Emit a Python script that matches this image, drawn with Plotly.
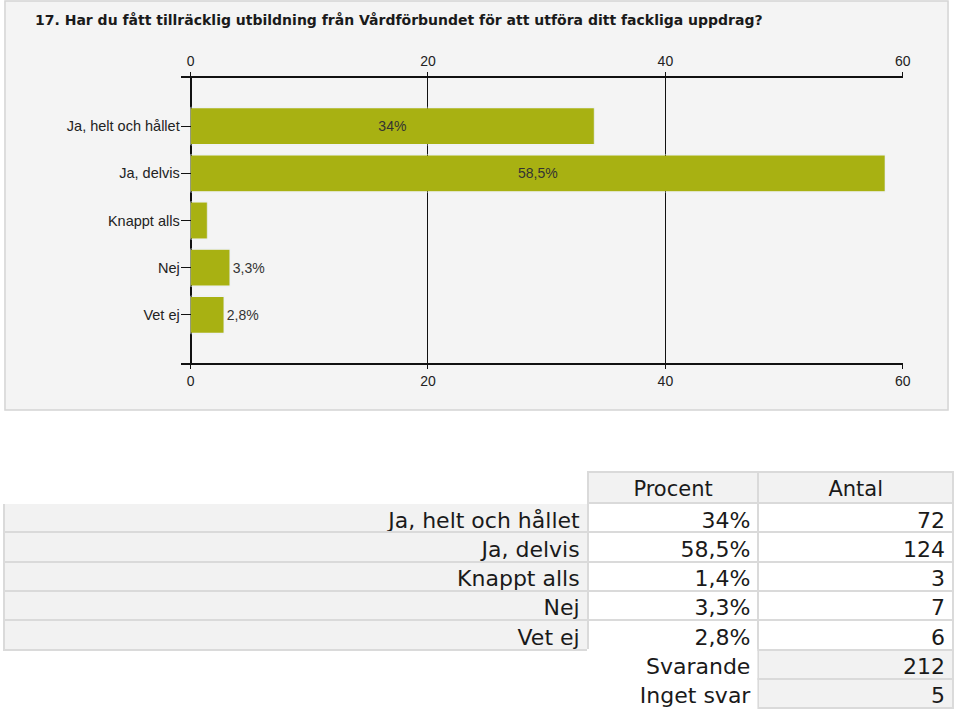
import plotly.graph_objects as go

# Data
categories = ["Ja, helt och hållet", "Ja, delvis", "Knappt alls", "Nej", "Vet ej"]
percent = [34.0, 58.5, 1.4, 3.3, 2.8]
percent_labels = ["34%", "58,5%", "1,4%", "3,3%", "2,8%"]
bar_text = ["34%", "58,5%", "", "3,3%", "2,8%"]
text_pos = ["inside", "inside", "none", "outside", "outside"]
counts = [72, 124, 3, 7, 6]
answered = 212
no_answer = 5
x_ticks = [0, 20, 40, 60]

title = "17. Har du fått tillräcklig utbildning från Vårdförbundet för att utföra ditt fackliga uppdrag?"

W, H = 960, 714
BAR = "#a8b112"
GREY_CELL = "#f2f2f2"
BORDER = "#dadada"

fig = go.Figure()

fig.add_trace(go.Bar(
    y=categories,
    x=percent,
    orientation="h",
    width=0.76,
    marker=dict(color=BAR, line=dict(width=0)),
    text=bar_text,
    textposition=text_pos,
    insidetextanchor="middle",
    textfont=dict(family="Liberation Sans, Arial", size=14, color="#333333"),
    cliponaxis=False,
    hoverinfo="skip",
))

# second (invisible) trace so the top axis is drawn
fig.add_trace(go.Bar(
    y=categories, x=percent, orientation="h", xaxis="x2",
    marker=dict(color="rgba(0,0,0,0)"), hoverinfo="skip", showlegend=False,
))

# table below the chart
col0 = categories + ["", ""]
col1 = percent_labels + ["Svarande", "Inget svar"]
col2 = [str(c) for c in counts] + [str(answered), str(no_answer)]

fig.add_trace(go.Table(
    domain=dict(x=[4 / W, 1.0], y=[0, 1 - 472 / H]),
    columnwidth=[588, 172, 196],
    header=dict(
        values=["", "Procent", "Antal"],
        align="center",
        height=31,
        fill=dict(color=["white", GREY_CELL, GREY_CELL]),
        line=dict(color=["white", BORDER, BORDER], width=2),
        font=dict(family="DejaVu Sans, Verdana", size=21, color="#1a1a1a"),
    ),
    cells=dict(
        values=[col0, col1, col2],
        align="right",
        height=29.3,
        fill=dict(color=[
            [GREY_CELL] * 5 + ["white"] * 2,
            ["white"] * 7,
            ["white"] * 5 + [GREY_CELL] * 2,
        ]),
        line=dict(color=[
            [BORDER] * 5 + ["white"] * 2,
            [BORDER] * 5 + ["white"] * 2,
            [BORDER] * 7,
        ], width=2),
        font=dict(family="DejaVu Sans, Verdana", size=22, color="#1a1a1a"),
    ),
))

axis_common = dict(
    range=[-0.835, 60.05],
    tickvals=x_ticks,
    showgrid=True,
    gridcolor="#111111",
    gridwidth=1,
    zeroline=True,
    zerolinecolor="#111111",
    zerolinewidth=2,
    showline=True,
    linecolor="#111111",
    linewidth=2,
    ticks="outside",
    ticklen=4,
    tickcolor="#111111",
    tickfont=dict(family="Liberation Sans, Arial", size=14, color="#222222"),
    fixedrange=True,
)

fig.update_layout(
    width=W,
    height=H,
    margin=dict(l=0, r=0, t=0, b=0),
    paper_bgcolor="white",
    plot_bgcolor="#fafafa",
    showlegend=False,
    barmode="overlay",
    xaxis=dict(domain=[182 / W, 910 / W], anchor="y", side="bottom", **axis_common),
    xaxis2=dict(domain=[182 / W, 910 / W], anchor="y", side="top", overlaying="x",
                matches="x", **axis_common),
    yaxis=dict(
        domain=[1 - 363 / H, 1 - 78 / H],
        type="category",
        range=[5.02, -1.02],
        showgrid=False,
        zeroline=False,
        showline=False,
        ticks="inside",
        ticklen=10,
        tickcolor="#111111",
        tickwidth=1,
        tickfont=dict(family="Liberation Sans, Arial", size=14.5, color="#222222"),
        fixedrange=True,
    ),
    shapes=[dict(
        type="rect", xref="paper", yref="paper",
        x0=5 / W, x1=955 / W, y0=1 - 410 / H, y1=1 - 1 / H,
        fillcolor="#f4f4f4", line=dict(color="#d4d4d4", width=1.5),
        layer="below",
    )],
    annotations=[dict(
        text="<b>" + title + "</b>",
        xref="paper", yref="paper",
        x=33 / W, y=1 - 20 / H,
        xanchor="left", yanchor="middle",
        showarrow=False,
        font=dict(family="DejaVu Sans, Verdana", size=14, color="#1a1a1a"),
    )],
)

# drop the default page margin / scrollbars so the figure sits at the top-left corner
page_js = (
    "document.body.style.margin='0';"
    "document.body.style.overflow='hidden';"
    "document.documentElement.style.overflow='hidden';"
)
fig.write_html("out.html", post_script=page_js, config={"displayModeBar": False})
